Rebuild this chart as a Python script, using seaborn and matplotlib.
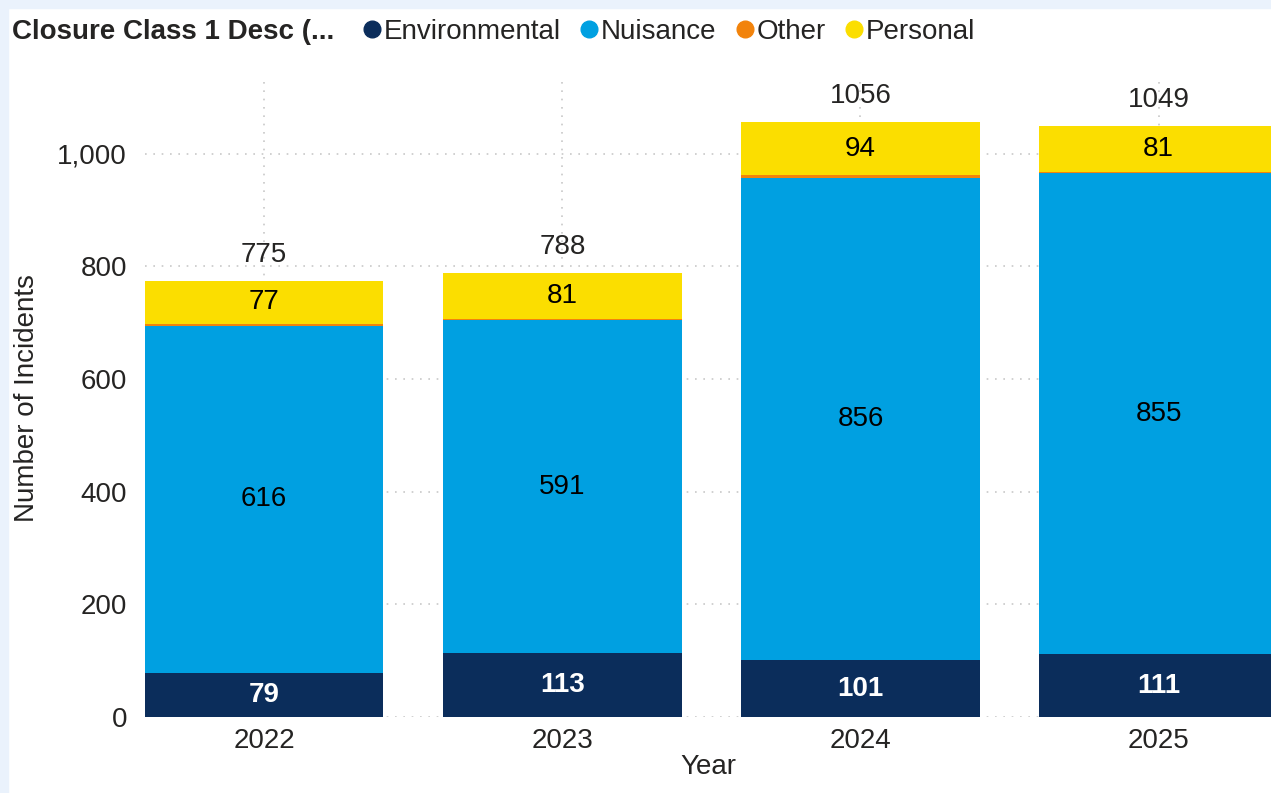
# Incidents by year, stacked by closure class

import numpy as np
import pandas as pd
import matplotlib
matplotlib.use("Agg")
import matplotlib.pyplot as plt
import seaborn as sns
from matplotlib.lines import Line2D
from matplotlib.patches import Rectangle

# DATA

years = ["2022", "2023", "2024", "2025"]
classes = ["Environmental", "Nuisance", "Other", "Personal"]
environmental = [79, 113, 101, 111]
nuisance = [616, 591, 856, 855]
other = [3, 3, 5, 2]
personal = [77, 81, 94, 81]

colors = {
    "Environmental": "#0B2D5B",
    "Nuisance": "#00A0E1",
    "Other": "#F2830B",
    "Personal": "#FBDE00",
}

df = pd.DataFrame({
    "Year": years,
    "Environmental": environmental,
    "Nuisance": nuisance,
    "Other": other,
    "Personal": personal,
})

# cumulative tops for stacking
cum = df[classes].cumsum(axis=1)
df["total"] = cum["Personal"]

# STYLE

sns.set_theme(style="white")
plt.rcParams["font.family"] = ["Liberation Sans", "DejaVu Sans"]
text_col = "#252423"
fs = 20

fig = plt.figure(figsize=(12.71, 7.93), dpi=100)
fig.patch.set_facecolor("white")
# light blue frame along the top and left edges
fig.patches.append(Rectangle((0, 1 - 8 / 793), 1, 8 / 793,
                             transform=fig.transFigure, color="#EAF2FC", zorder=-10))
fig.patches.append(Rectangle((0, 0), 8 / 1271, 1,
                             transform=fig.transFigure, color="#EAF2FC", zorder=-10))

ax = fig.add_axes([145 / 1271, 76 / 793, 1 - 145 / 1271, (717 - 80) / 793])
ax.set_facecolor("none")

# draw stacked bars by overlaying cumulative heights, top layer first
for cls in reversed(classes):
    sns.barplot(x=df["Year"], y=cum[cls], color=colors[cls], width=0.8,
                saturation=1, linewidth=0, ax=ax, zorder=3)

ax.set_xlim(-0.4, 3.377)
ax.set_ylim(0, 1131)
ax.set_yticks([0, 200, 400, 600, 800, 1000])
ax.set_yticklabels(["0", "200", "400", "600", "800", "1,000"])

# GRID
for y in [0, 200, 400, 600, 800, 1000]:
    ax.axhline(y, color="#C8C8C8", lw=1.2, ls=(0, (1, 4)), zorder=1)
for i in range(len(years)):
    ax.axvline(i, color="#C8C8C8", lw=1.2, ls=(0, (1, 4)), zorder=1)

for s in ax.spines.values():
    s.set_visible(False)
ax.tick_params(axis="both", length=0, labelsize=fs, colors=text_col)
ax.tick_params(axis="y", pad=13)
ax.tick_params(axis="x", pad=8)
ax.set_xlabel("Year", fontsize=fs, color=text_col, labelpad=0)
ax.set_ylabel("Number of Incidents", fontsize=fs, color=text_col)
ax.yaxis.set_label_coords(-105 / 1126, 0.5)

# LABELS
for i, row in df.iterrows():
    base = 0
    for cls in classes:
        v = row[cls]
        if cls != "Other":
            if cls == "Environmental":
                ax.text(i, base + v / 2, f"{v}", ha="center", va="center",
                        fontsize=fs, color="white", fontweight="bold", zorder=5)
            else:
                ax.text(i, base + v / 2, f"{v}", ha="center", va="center",
                        fontsize=fs, color="black", zorder=5)
        base += v
    ax.text(i, row["total"] + 46, f"{row['total']}", ha="center", va="center",
            fontsize=fs, color=text_col, zorder=5)

# LEGEND
fig.text(12 / 1271, 1 - 32 / 793, "Closure Class 1 Desc (...", fontsize=fs,
         fontweight="bold", color=text_col, ha="left", va="center")
handles = [Line2D([0], [0], marker="o", ls="", color=colors[c], markersize=12)
           for c in classes]
fig.legend(handles, classes, loc="center left",
           bbox_to_anchor=(364 / 1271, 1 - 32 / 793), ncol=4, frameon=False,
           fontsize=fs, handlelength=0.6, handletextpad=0.12, columnspacing=0.72,
           labelcolor=text_col, borderaxespad=0, borderpad=0)

fig.savefig("out.png", dpi=100)
